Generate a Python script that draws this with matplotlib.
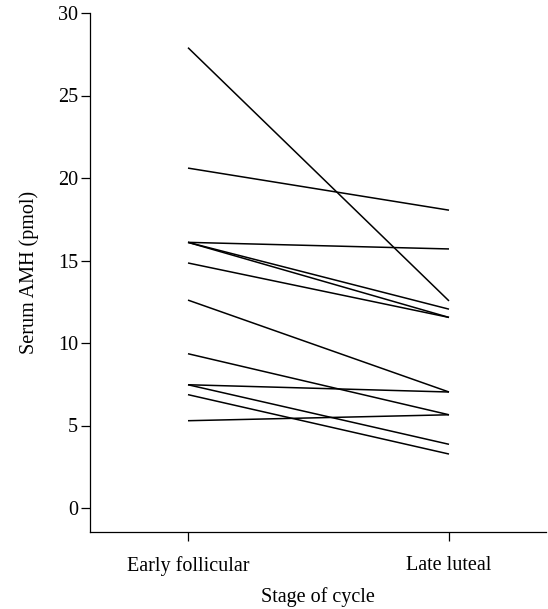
import matplotlib
matplotlib.use("Agg")
import matplotlib.pyplot as plt

stages = ["Early follicular", "Late luteal"]
early = [27.9, 20.6, 16.1, 16.1, 16.1, 14.85, 12.6, 9.35, 7.47, 7.47, 6.87, 5.29]
late = [12.55, 18.05, 15.7, 12.05, 11.55, 11.55, 7.03, 5.65, 7.03, 3.86, 3.27, 5.65]
yticks = [0, 5, 10, 15, 20, 25, 30]

plt.rcParams['font.family'] = ['Liberation Serif', 'DejaVu Serif']
fig = plt.figure(figsize=(5.48, 6.09), dpi=100)
W, H = 548, 609
left, right, bottom, top = 90, 546, 532, 13
ax = fig.add_axes([left / W, (H - bottom) / H, (right - left) / W, (bottom - top) / H])

x = [0, 1]
for e, l in zip(early, late):
    ax.plot(x, [e, l], color='black', lw=1.1, solid_capstyle='butt')

ax.set_xlim(-98 / 261, (right - 188) / 261)
ax.set_ylim(-24 / 16.5, 30)
ax.set_xticks(x)
ax.set_xticklabels(stages)
ax.set_yticks(yticks)
for s in ['top', 'right']:
    ax.spines[s].set_visible(False)
for s in ['left', 'bottom']:
    ax.spines[s].set_linewidth(0.9)
ax.tick_params(axis='both', labelsize=14.5, width=0.9, length=6.5, color='black')
ax.tick_params(axis='x', pad=11)
ax.tick_params(axis='y', pad=2)
ax.set_xlabel("Stage of cycle", fontsize=14.5, labelpad=8)
ax.set_ylabel("Serum AMH (pmol)", fontsize=14.5, labelpad=14)

fig.savefig("out.png", dpi=100)
